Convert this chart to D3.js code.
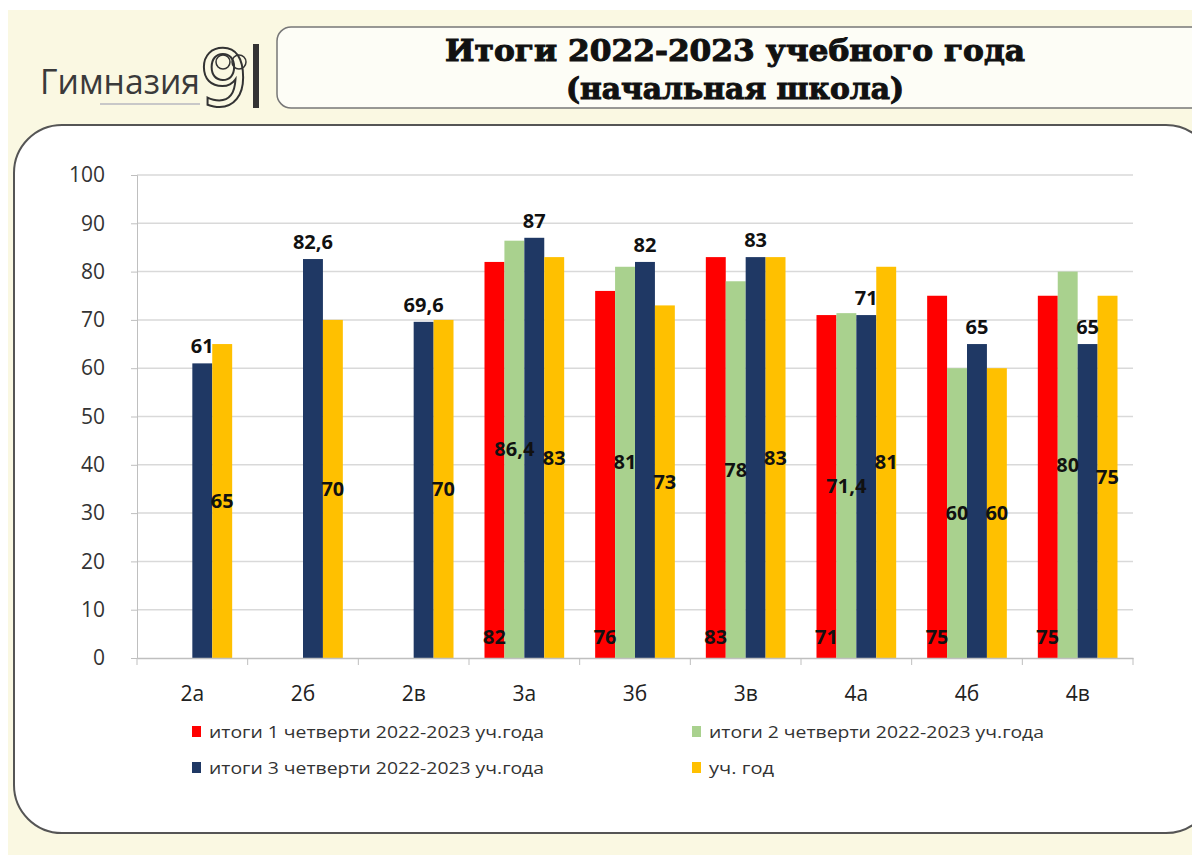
<!DOCTYPE html>
<html><head><meta charset="utf-8">
<script src="https://cdn.jsdelivr.net/npm/d3@7"></script>
<style>body{margin:0;background:#fff;}svg{display:block;}</style>
</head><body>
<svg id="c" width="1192" height="855"></svg>
<script>
const categories = ["2а","2б","2в","3а","3б","3в","4а","4б","4в"];
const seriesNames = ["итоги 1 четверти 2022-2023 уч.года","итоги 2 четверти 2022-2023 уч.года","итоги 3 четверти 2022-2023 уч.года","уч. год"];
const q1 = [null,null,null,82,76,83,71,75,75];
const q2 = [null,null,null,86.4,81,78,71.4,60,80];
const q3 = [61,82.6,69.6,87,82,83,71,65,65];
const year = [65,70,70,83,73,83,81,60,75];
const yTicks = [0,10,20,30,40,50,60,70,80,90,100];
const colors = ["#ff0000","#a9d18e","#1f3864","#ffc000"];
const titleLines = ["Итоги 2022-2023 учебного года","(начальная школа)"];

const svg = d3.select("#c");
// background
svg.append("rect").attr("width",1192).attr("height",855).attr("fill","#fff");
svg.append("rect").attr("x",8).attr("y",10).attr("width",1184).attr("height",845).attr("fill","#faf8e2");
// logo
const logo = svg.append("g");
logo.append("text").attr("x",40).attr("y",94)
  .attr("font-family","'Open Sans',sans-serif").attr("textLength",160).attr("lengthAdjust","spacingAndGlyphs")
  .attr("font-size",35).attr("fill","#3a3a3a").text("Гимназия");
logo.append("text").attr("x",199).attr("y",106).attr("font-family","'DejaVu Sans',sans-serif")
  .attr("font-size",78).attr("fill","none").attr("stroke","#333").attr("stroke-width",2).text("9");
logo.append("rect").attr("x",253).attr("y",44).attr("width",6).attr("height",64).attr("fill","#333");
logo.append("circle").attr("cx",223).attr("cy",62).attr("r",7).attr("fill","none").attr("stroke","#333").attr("stroke-width",1.5);
logo.append("circle").attr("cx",239).attr("cy",62).attr("r",7).attr("fill","none").attr("stroke","#333").attr("stroke-width",1.5);
logo.append("rect").attr("x",100).attr("y",103).attr("width",100).attr("height",2).attr("fill","#c8c8c8");

// title box
svg.append("rect").attr("x",277).attr("y",27).attr("width",935).attr("height",81).attr("rx",14)
  .attr("fill","#fdfdf6").attr("stroke","#777").attr("stroke-width",1.5);
svg.selectAll("text.title").data(titleLines).join("text").attr("class","title")
  .attr("x",735).attr("y",(d,i)=>61+i*38).attr("text-anchor","middle")
  .attr("font-family","'DejaVu Serif',serif").attr("font-weight","bold").attr("font-size",29)
  .attr("textLength",(d,i)=>i===0?580:338).attr("lengthAdjust","spacingAndGlyphs")
  .attr("fill","#111").attr("stroke","#111").attr("stroke-width",1).text(d=>d);

// panel
svg.append("rect").attr("x",14).attr("y",125).attr("width",1200).attr("height",708).attr("rx",48)
  .attr("fill","#fff").attr("stroke","#555").attr("stroke-width",2);

const x = d3.scaleBand().domain(categories).range([137,1133]).paddingInner(0.28).paddingOuter(0.14);
const xi = d3.scaleBand().domain(d3.range(4)).range([0,x.bandwidth()]);
const y = d3.scaleLinear().domain([0,100]).range([658,175]);

// gridlines
svg.append("g").selectAll("line").data(yTicks.filter(t=>t>0)).join("line")
  .attr("x1",137).attr("x2",1133).attr("y1",d=>y(d)).attr("y2",d=>y(d))
  .attr("stroke","#d9d9d9").attr("stroke-width",1.5);

// y axis
const ya = svg.append("g").attr("transform","translate(137,0)")
  .call(d3.axisLeft(y).tickValues(yTicks).tickSize(6).tickPadding(26));
ya.select(".domain").attr("stroke","#bfbfbf");
ya.selectAll(".tick line").attr("stroke","#bfbfbf");
ya.selectAll("text").attr("font-family","'Open Sans',sans-serif").attr("font-size",21).attr("fill","#333");

// bars
const series = [q1,q2,q3,year];
const barData = [];
categories.forEach((c,ci)=>series.forEach((s,si)=>{ if(s[ci]!=null) barData.push({c,si,v:s[ci]}); }));
svg.append("g").selectAll("rect").data(barData).join("rect")
  .attr("x",d=>x(d.c)+xi(d.si)).attr("width",xi.bandwidth())
  .attr("y",d=>y(d.v)).attr("height",d=>y(0)-y(d.v)).attr("fill",d=>colors[d.si]);

// x axis
const xa = svg.append("g").attr("transform","translate(0,658)")
  .call(d3.axisBottom(x).tickSize(0).tickPadding(28));
xa.select(".domain").attr("stroke","#bfbfbf").attr("stroke-width",1.5);
xa.selectAll("text").attr("font-family","'Open Sans',sans-serif").attr("font-size",21).attr("fill","#222");
svg.append("g").selectAll("line").data(d3.range(categories.length+1)).join("line")
  .attr("x1",i=>137+i*x.step()).attr("x2",i=>137+i*x.step()).attr("y1",658).attr("y2",665)
  .attr("stroke","#bfbfbf");

// labels
const fmt = v => String(v).replace(".",",");
svg.append("g").selectAll("text").data(barData).join("text")
  .attr("x",d=>x(d.c)+xi(d.si)+xi.bandwidth()/2)
  .attr("y",d=> d.si===0 ? y(0)-14 : d.si===2 ? y(d.v)-10 : y(d.v/2)+7)
  .attr("text-anchor","middle").attr("font-family","'Open Sans',sans-serif").attr("font-weight","bold")
  .attr("font-size",20).attr("fill","#111").text(d=>fmt(d.v));

// legend
const lg = svg.append("g").selectAll("g").data(seriesNames).join("g")
  .attr("transform",(d,i)=>`translate(${i%2===0?192:692},${i<2?732:768})`);
lg.append("rect").attr("x",0).attr("y",-6).attr("width",9).attr("height",11).attr("fill",(d,i)=>colors[i]);
lg.append("text").attr("x",17).attr("y",6).attr("font-family","'Open Sans',sans-serif").attr("font-size",17)
  .attr("textLength",(d,i)=>i===3?65:335).attr("lengthAdjust","spacingAndGlyphs")
  .attr("fill","#333").text(d=>d);
</script>
</body></html>
